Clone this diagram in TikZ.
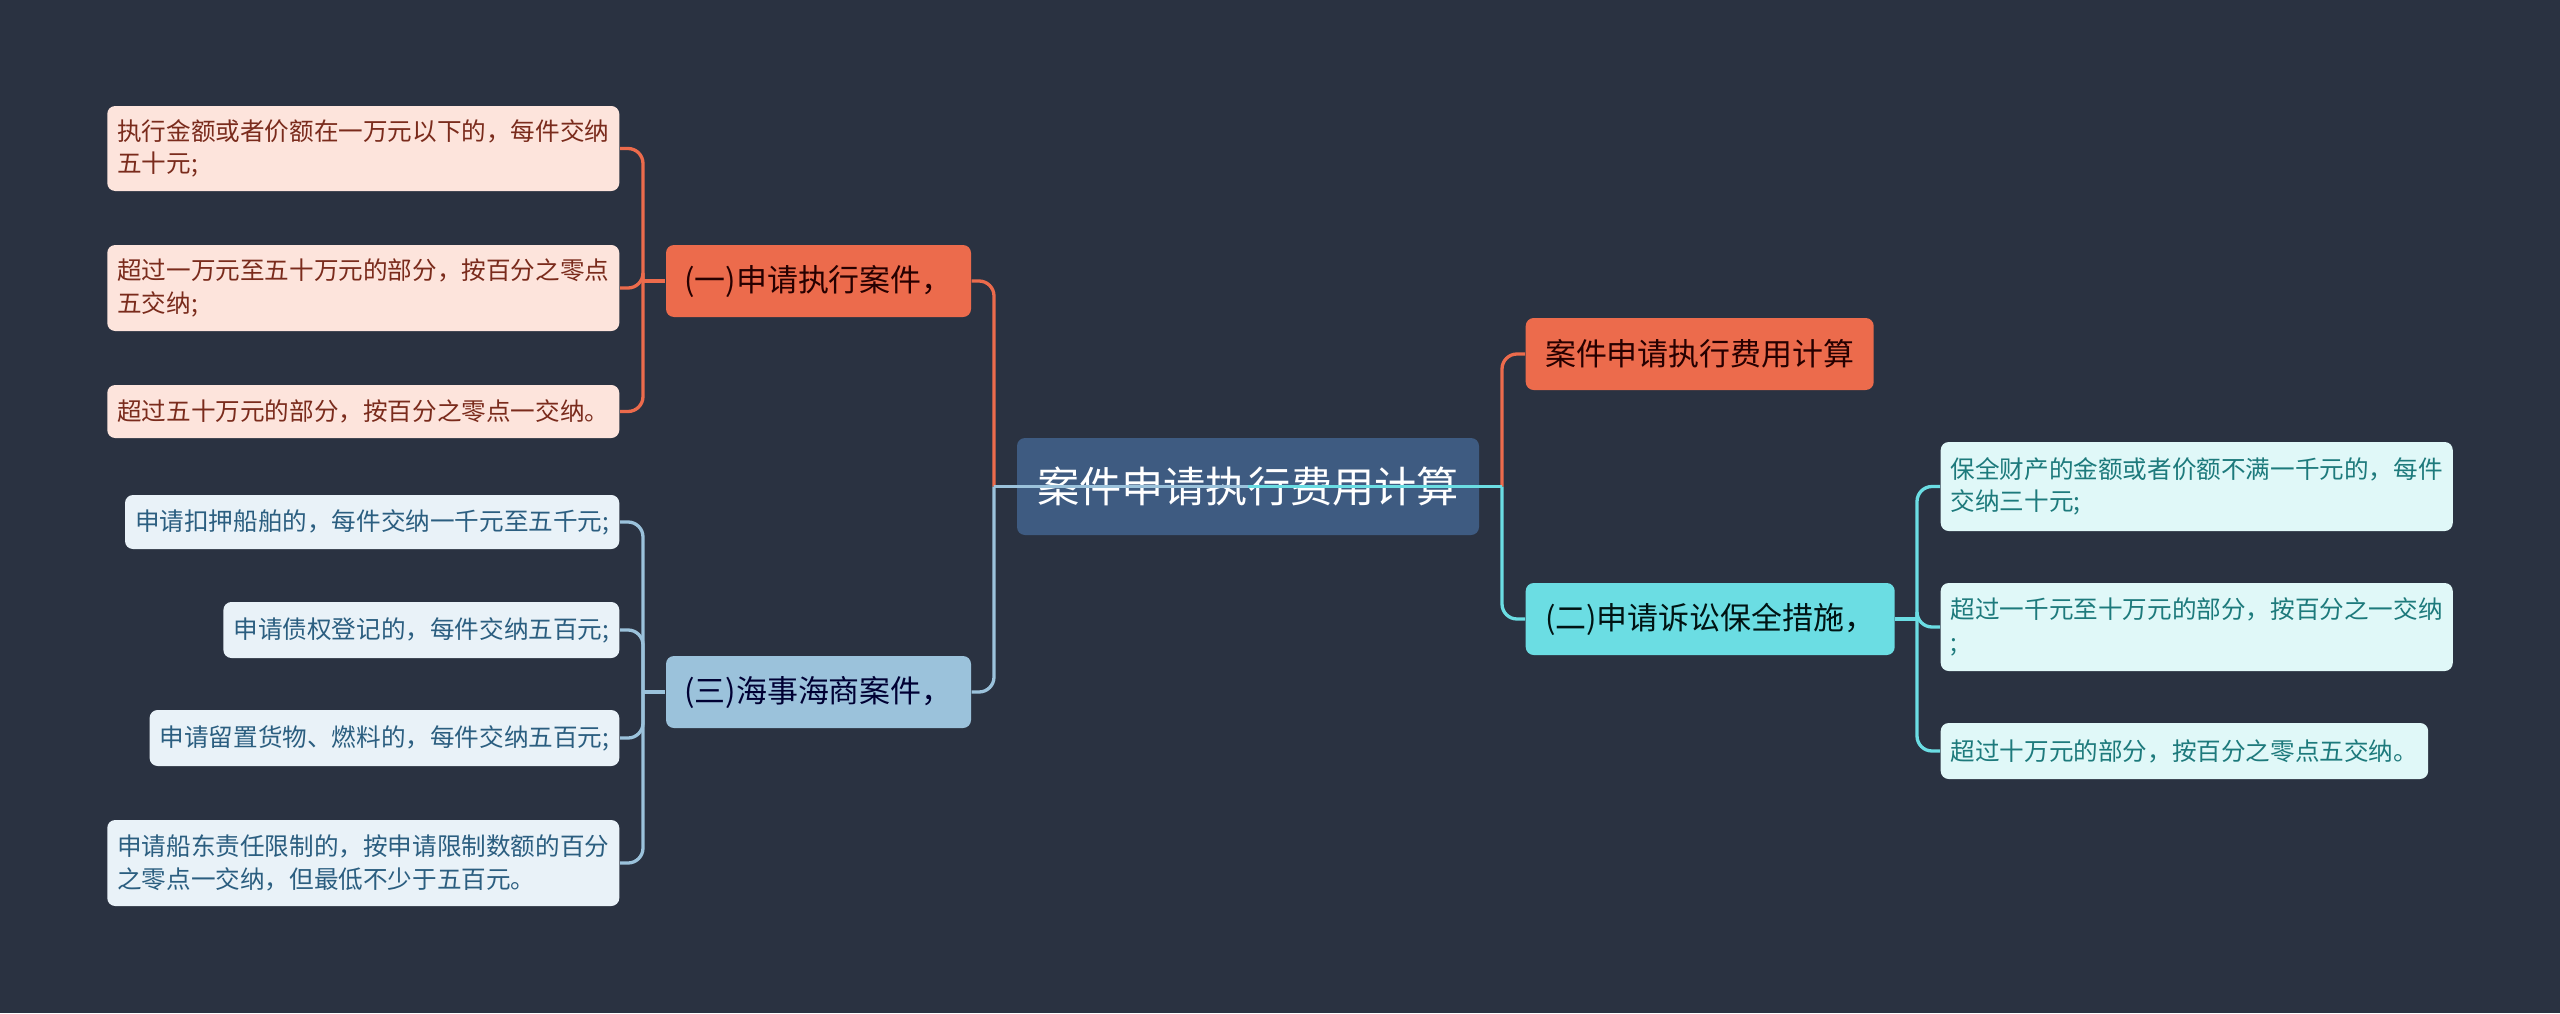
\documentclass[tikz,border=0pt]{standalone}
\usepackage{fontspec}
\setmainfont{Noto Sans CJK SC}
\usetikzlibrary{positioning}

\definecolor{bgnavy}{HTML}{2A3241}
\definecolor{rootblue}{HTML}{3E5B81}
\definecolor{tomato}{HTML}{EC6B4C}
\definecolor{paleblue}{HTML}{9BC2DB}
\definecolor{aqua}{HTML}{6BDDE3}
\definecolor{redleaf}{HTML}{FDE4DC}
\definecolor{redink}{HTML}{7A2B1C}
\definecolor{blueleaf}{HTML}{E9F2F8}
\definecolor{blueink}{HTML}{2B5E80}
\definecolor{aqualeaf}{HTML}{E0F8F8}
\definecolor{aquaink}{HTML}{1D7A7C}

\begin{document}
\begin{tikzpicture}[
			box/.style={rounded corners=0.08cm, inner ysep=0.04cm},
			root node/.style={box, fill=rootblue, text=white, font=\fontsize{12}{14}\selectfont, minimum width=4.62cm, minimum height=0.97cm},
			topic node/.style={box, font=\fontsize{8.8}{10.5}\selectfont, minimum height=0.72cm, inner xsep=0.18cm},
			leaf node/.style={box, font=\fontsize{7}{9.3}\selectfont, align=left, inner xsep=0.1cm},
			red leaf/.style={leaf node, fill=redleaf, text=redink, anchor=east},
			blue leaf/.style={leaf node, fill=blueleaf, text=blueink, anchor=east},
			aqua leaf/.style={leaf node, fill=aqualeaf, text=aquaink, anchor=west},
			branch/.style={line width=0.033cm, rounded corners=0.15cm}
			]
			
			\fill[bgnavy] (0,0) rectangle (25.6,-10.13);
			\useasboundingbox (0,0) rectangle (25.6,-10.13);
			
			\node[root node] (root) at (12.48,-4.865) {案件申请执行费用计算};
			
			\node[topic node, fill=tomato, text=black!85!red, minimum width=3.05cm] (exec) at (8.185,-2.81) {(一)申请执行案件，};
			\node[topic node, fill=paleblue, text=black!80!blue, minimum width=3.05cm] (sea) at (8.185,-6.92) {(三)海事海商案件，};
			\node[topic node, fill=tomato, text=black!85!red, anchor=west, minimum width=3.48cm] (calc) at (15.25,-3.54) {案件申请执行费用计算};
			\node[topic node, fill=aqua, text=black!85!teal, anchor=west, minimum width=3.69cm] (keep) at (15.25,-6.19) {(二)申请诉讼保全措施，};
			
			% (一)
			\node[red leaf, minimum height=0.85cm] (exec1) at (6.20,-1.485) {执行金额或者价额在一万元以下的，每件交纳\\五十元;};
			\node[red leaf, minimum height=0.86cm] (exec2) at (6.20,-2.88) {超过一万元至五十万元的部分，按百分之零点\\五交纳;};
			\node[red leaf, minimum height=0.53cm] (exec3) at (6.20,-4.115) {超过五十万元的部分，按百分之零点一交纳。};
			
			% (三)
			\node[blue leaf, minimum height=0.54cm] (sea1) at (6.20,-5.22) {申请扣押船舶的，每件交纳一千元至五千元;};
			\node[blue leaf, minimum height=0.56cm] (sea2) at (6.20,-6.30) {申请债权登记的，每件交纳五百元;};
			\node[blue leaf, minimum height=0.56cm] (sea3) at (6.20,-7.38) {申请留置货物、燃料的，每件交纳五百元;};
			\node[blue leaf, minimum height=0.86cm] (sea4) at (6.20,-8.63) {申请船东责任限制的，按申请限制数额的百分\\之零点一交纳，但最低不少于五百元。};
			
			% (二)
			\node[aqua leaf, minimum height=0.89cm] (keep1) at (19.40,-4.865) {保全财产的金额或者价额不满一千元的，每件\\交纳三十元;};
			\node[aqua leaf, minimum height=0.88cm] (keep2) at (19.40,-6.27) {超过一千元至十万元的部分，按百分之一交纳\\;};
			\node[aqua leaf, minimum height=0.56cm] (keep3) at (19.40,-7.51) {超过十万元的部分，按百分之零点五交纳。};
			
			\coordinate (ja) at (6.43,-2.81);
			\coordinate (jb) at (6.43,-6.92);
			\coordinate (jc) at (19.17,-6.19);
			\coordinate (jl) at (9.94,-4.865);
			\coordinate (jr) at (15.02,-4.865);
			
			\foreach \leaf in {exec1,exec2,exec3}
				\draw[branch, tomato] (\leaf.east) -| (ja);
			\draw[branch, tomato] (ja) -- (exec.west);
			\foreach \leaf in {sea1,sea2,sea3,sea4}
				\draw[branch, paleblue] (\leaf.east) -| (jb);
			\draw[branch, paleblue] (jb) -- (sea.west);
			\foreach \leaf in {keep1,keep2,keep3}
				\draw[branch, aqua] (\leaf.west) -| (jc);
			\draw[branch, aqua] (jc) -- (keep.east);
			
			\draw[branch, tomato] (exec.east) -| (jl);
			\draw[branch, paleblue] (sea.east) -| (jl);
			\draw[branch, tomato] (calc.west) -| (jr);
			\draw[branch, aqua] (keep.west) -| (jr);
			\draw[branch, paleblue] (jl) -- (root.center);
			\draw[branch, aqua] (root.center) -- (jr);
		\end{tikzpicture}
\end{document}
